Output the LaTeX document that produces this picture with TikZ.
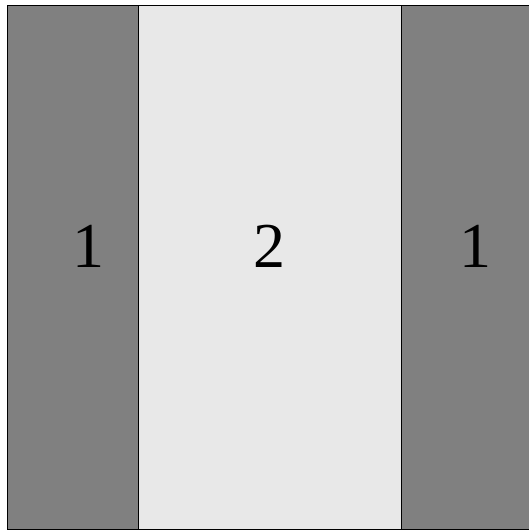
\documentclass[tikz,border=0pt]{standalone}
\usepackage{fontspec}
\setmainfont{Liberation Serif}
\usepackage{xcolor}
\definecolor{darkstrip}{HTML}{808080}
\definecolor{lightstrip}{HTML}{E8E8E8}

\begin{document}
\begin{tikzpicture}[x=1pt,y=-1pt, strip/.style={draw=black, line width=0.8pt}, label/.style={font=\fontsize{64}{64}\selectfont, anchor=base, inner sep=0pt}]
    % Frame
    \useasboundingbox (0,0) rectangle (529,531);

    % Strips
    \draw[strip, fill=darkstrip] (7,5) rectangle (138,529);
    \draw[strip, fill=lightstrip] (138,5) rectangle (401,529);
    \draw[strip, fill=darkstrip] (401,5) rectangle (540,529);

    % Labels
    \node[label] (left) at (88,267) {1};
    \node[label] (middle) at (269,267) {2};
    \node[label] (right) at (475,267) {1};
\end{tikzpicture}
\end{document}
